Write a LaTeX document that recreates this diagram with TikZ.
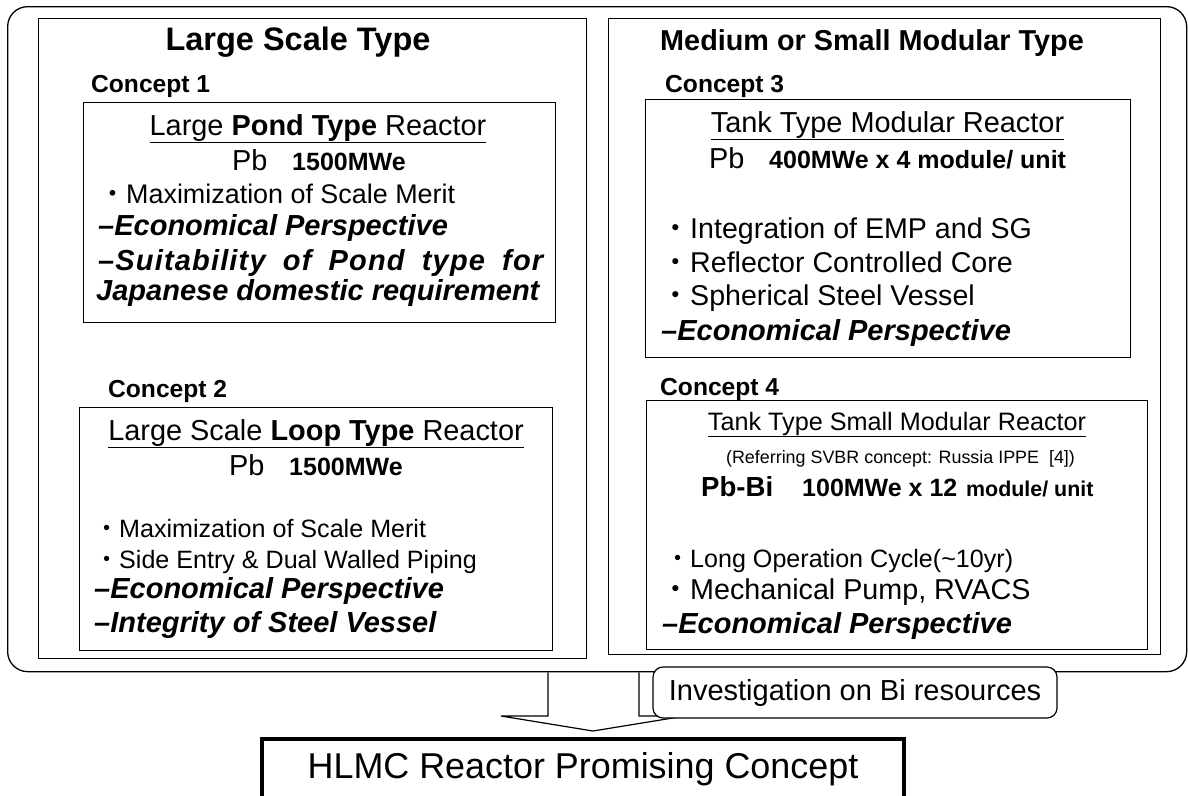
\documentclass[tikz,border=0pt]{standalone}
\usepackage{fontspec}
\setmainfont{Liberation Sans}
\newfontfamily\cjk{Noto Sans CJK JP}
\newcommand\fs[1]{\fontsize{#1pt}{#1pt}\selectfont}
\newcommand\bul{{\cjk ・}}
\begin{document}
\begin{tikzpicture}[x=1pt,y=-1pt,
  frame/.style={draw, line width=1.2pt, inner sep=0, anchor=north west},
  tw/.style={inner sep=0, anchor=base west},
  tc/.style={inner sep=0, anchor=base},
  bi/.style={tw, font=\bfseries\itshape\fs{29}},
]
\useasboundingbox (0,0) rectangle (1188,795);
\clip (0,0) rectangle (1188,795);
% frames
\node[frame, rounded corners=20pt, line width=1.3pt, minimum width=1179pt, minimum height=665pt] (outer) at (7,6) {};
\node[frame, minimum width=548pt, minimum height=640pt] (lp) at (38,18) {};
\node[frame, minimum width=552pt, minimum height=636pt] (rp) at (608,18) {};
\node[frame, minimum width=472pt, minimum height=220pt] (c1) at (83,102) {};
\node[frame, minimum width=473pt, minimum height=243pt] (c2) at (79,407) {};
\node[frame, minimum width=485pt, minimum height=258pt] (c3) at (645,99) {};
\node[frame, minimum width=501pt, minimum height=249pt] (c4) at (646,400) {};
% left panel
\node[tc, font=\bfseries\fs{32.5}] (t1) at (298,50) {Large Scale Type};
\node[tw, font=\bfseries\fs{24.6}] (k1) at (91,92) {Concept 1};
\node[tc, font=\fs{28.9}] (r1) at (318,135) {\underline{Large \textbf{Pond Type} Reactor}};
\node[tw, font=\fs{28.9}] (p1) at (232,170) {Pb};
\node[tw, font=\bfseries\fs{25}] (m1) at (292,170) {1500MWe};
\node[tw, font=\fs{26.9}] (b1) at (99.1,203) {\bul Maximization of Scale Merit};
\node[bi] (e1) at (98,235) {–Economical Perspective};
\node[bi] (s1) at (98,270) {\addfontfeature{LetterSpace=4}\makebox[445pt][s]{–Suitability of Pond type for}};
\node[bi] (j1) at (96,300) {Japanese domestic requirement};
\node[tw, font=\bfseries\fs{24.6}] (k2) at (108,397) {Concept 2};
\node[tc, font=\fs{28.9}] (r2) at (316,440) {\underline{Large Scale \textbf{Loop Type} Reactor}};
\node[tw, font=\fs{28.9}] (p2) at (229,475) {Pb};
\node[tw, font=\bfseries\fs{25}] (m2) at (289,475) {1500MWe};
\node[tw, font=\fs{25.1}] (b2a) at (93.9,537) {\bul Maximization of Scale Merit};
\node[tw, font=\fs{25.1}] (b2b) at (93.9,568) {\bul Side Entry \& Dual Walled Piping};
\node[bi] (e2) at (94,598) {–Economical Perspective};
\node[bi] (i2) at (94,632) {–Integrity of Steel Vessel};
% right panel
\node[tc, font=\bfseries\fs{28.8}] (t2) at (872,50) {Medium or Small Modular Type};
\node[tw, font=\bfseries\fs{24.6}] (k3) at (665,92) {Concept 3};
\node[tc, font=\fs{28.9}] (r3) at (887.5,132) {\underline{Tank Type Modular Reactor}};
\node[tw, font=\fs{28.9}] (p3) at (709,168) {Pb};
\node[tw, font=\bfseries\fs{25}] (m3) at (769,168) {400MWe x 4 module/ unit};
\node[tw, font=\fs{28.6}] (b3a) at (661.4,238) {\bul Integration of EMP and SG};
\node[tw, font=\fs{28.6}] (b3b) at (661.4,272) {\bul Reflector Controlled Core};
\node[tw, font=\fs{28.6}] (b3c) at (661.4,305) {\bul Spherical Steel Vessel};
\node[bi] (e3) at (661,340) {–Economical Perspective};
\node[tw, font=\bfseries\fs{24.6}] (k4) at (660,395) {Concept 4};
\node[tc, font=\fs{25.2}] (r4) at (897,430) {\underline{Tank Type Small Modular Reactor}};
\node[tc, font=\fs{17.9}] (ref) at (900.5,463) {(Referring SVBR concept: Russia IPPE~~[4])};
\node[tw, font=\bfseries\fs{27.6}] (pb4) at (701,496) {Pb-Bi};
\node[tw, font=\bfseries\fs{25}] (m4) at (802,496) {100MWe x 12};
\node[tw, font=\bfseries\fs{21.4}] (u4) at (966,496) {module/ unit};
\node[tw, font=\fs{25.1}] (b4a) at (664.9,567) {\bul Long Operation Cycle(\char"7E 10yr)};
\node[tw, font=\fs{28.7}] (b4b) at (661.3,599) {\bul Mechanical Pump, RVACS};
\node[bi] (e4) at (662,633) {–Economical Perspective};
% block arrow
\coordinate (aL) at (548,0);
\coordinate (aR) at (639,0);
\coordinate (tip) at (593,731);
\draw[line width=1.2pt] (outer.south -| aL) -- (548,716) -- (501,716) -- (tip) -- (685,716) -- (639,716) -- (outer.south -| aR);
% side note and result
\node[draw, rounded corners=10pt, line width=1.2pt, fill=white, minimum width=404pt, minimum height=51pt, inner sep=0, font=\fs{29}] (inv) at (855,692.5) {Investigation on Bi resources};
\node[draw, line width=3.5pt, minimum width=642pt, minimum height=61.3pt, inner sep=0, anchor=north, font=\fs{35.9}] (hlmc) at (583,737) {HLMC Reactor Promising Concept};
\end{tikzpicture}
\end{document}
